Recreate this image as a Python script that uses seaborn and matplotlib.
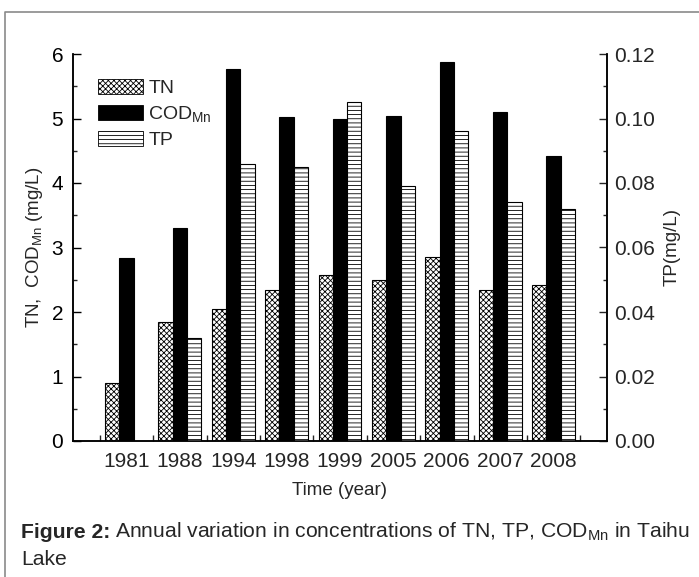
import numpy as np
import pandas as pd
import matplotlib
matplotlib.use("Agg")
import matplotlib.pyplot as plt
import seaborn as sns
from matplotlib.patches import Patch
from matplotlib.lines import Line2D
from matplotlib.ticker import MultipleLocator, FormatStrFormatter, FixedLocator

# ---- data ----
years = ["1981", "1988", "1994", "1998", "1999", "2005", "2006", "2007", "2008"]
tn = [0.90, 1.84, 2.05, 2.34, 2.57, 2.49, 2.85, 2.34, 2.42]
cod = [2.83, 3.30, 5.77, 5.03, 4.99, 5.04, 5.88, 5.10, 4.42]
tp = [np.nan, 0.032, 0.086, 0.085, 0.105, 0.079, 0.096, 0.074, 0.072]
series_order = ["TN", "COD", "TP"]

df = pd.DataFrame({
    "year": years * 3,
    "series": ["TN"] * len(years) + ["COD"] * len(years) + ["TP"] * len(years),
    "value": tn + cod + tp,
})

sns.set_style("white")
plt.rcParams["font.family"] = ["Liberation Sans", "DejaVu Sans"]
plt.rcParams["mathtext.fontset"] = "custom"
plt.rcParams["mathtext.rm"] = "Liberation Sans"
plt.rcParams["mathtext.it"] = "Liberation Sans:italic"
plt.rcParams["mathtext.bf"] = "Liberation Sans:bold"
plt.rcParams["hatch.linewidth"] = 0.6

palette = {"TN": "white", "COD": "black", "TP": "white"}
hatches = {"TN": "xxxxxx", "COD": None, "TP": "----"}

fig = plt.figure(figsize=(6.99, 5.77), dpi=100)
ax = fig.add_axes([73 / 699, 1 - 441 / 577, (607 - 73) / 699, (441 - 54) / 577])
ax2 = ax.twinx()

# same grouped bar layout on both axes; each axis shows only its own series
for a, shown in ((ax, ("TN", "COD")), (ax2, ("TP",))):
    sns.barplot(data=df, x="year", y="value", hue="series", hue_order=series_order,
                order=years, palette=palette, edgecolor="black", linewidth=0.8,
                errorbar=None, legend=False, ax=a)
    for cont, name in zip(a.containers, series_order):
        for p in cont:
            if name not in shown:
                p.set_visible(False)
            elif hatches[name]:
                p.set_hatch(hatches[name])

ax.set_xlim(-1, 9)
ax.set_ylim(0, 6)
ax2.set_ylim(0, 0.12)

ax.yaxis.set_major_locator(MultipleLocator(1))
ax.yaxis.set_minor_locator(MultipleLocator(0.5))
ax2.yaxis.set_major_locator(MultipleLocator(0.02))
ax2.yaxis.set_minor_locator(MultipleLocator(0.01))
ax2.yaxis.set_major_formatter(FormatStrFormatter("%.2f"))
ax.xaxis.set_minor_locator(FixedLocator(np.arange(-0.5, 9.0, 1.0)))

for a in (ax, ax2):
    for s in a.spines.values():
        s.set_linewidth(1.1)
        s.set_color("black")
    a.spines["top"].set_visible(False)

ax.tick_params(axis="y", which="major", direction="in", length=6, width=1, labelsize=15, pad=7, colors="black", left=True)
ax.tick_params(axis="y", which="minor", direction="in", length=3, width=1, left=True)
ax.tick_params(axis="x", which="major", length=0, labelsize=15, pad=8)
ax.tick_params(axis="x", which="minor", direction="in", length=4, width=1, bottom=True)
ax2.tick_params(axis="y", which="major", direction="in", length=6, width=1, labelsize=15, pad=5, right=True)
ax2.tick_params(axis="y", which="minor", direction="in", length=3, width=1, right=True)

ax.set_xlabel("Time (year)", fontsize=13.5, labelpad=8)
ax.set_ylabel(r"TN,  COD$_{\mathrm{Mn}}$ (mg/L)", fontsize=13.5, labelpad=5)
ax2.set_ylabel("TP(mg/L)", fontsize=13.5, labelpad=6)

handles = [
    Patch(facecolor="white", edgecolor="black", hatch="xxxxxx", linewidth=0.6),
    Patch(facecolor="black", edgecolor="black", linewidth=0.6),
    Patch(facecolor="white", edgecolor="black", hatch="----", linewidth=0.6),
]
labels = ["TN", r"COD$_{\mathrm{Mn}}$", "TP"]
ax.legend(handles, labels, loc="upper left", bbox_to_anchor=(0.032, 0.955), frameon=False,
          fontsize=14, handlelength=2.3, handleheight=0.8, labelspacing=0.35,
          handletextpad=0.3, borderaxespad=0)

# figure frame (gray border)
fig.add_artist(Line2D([5 / 699, 5 / 699, 1.0], [0.0, 1 - 12 / 577, 1 - 12 / 577],
                      transform=fig.transFigure, color="#8a8a8a", linewidth=1.2))

cap_y1 = 1 - 538 / 577
cap_y2 = 1 - 565 / 577
t1 = fig.text(21 / 699, cap_y1, "Figure 2:", fontsize=15.2, fontweight="bold", ha="left", va="baseline")
fig.canvas.draw()
bb = t1.get_window_extent(renderer=fig.canvas.get_renderer())
x2 = (bb.x1 + 5) / fig.bbox.width
fig.text(x2, cap_y1, r"Annual variation in concentrations of TN, TP, COD$_{\mathrm{Mn}}$ in Taihu",
         fontsize=15.2, ha="left", va="baseline")
fig.text(21 / 699, cap_y2, "Lake", fontsize=15.2, ha="left", va="baseline")

fig.savefig("out.png", dpi=100)
